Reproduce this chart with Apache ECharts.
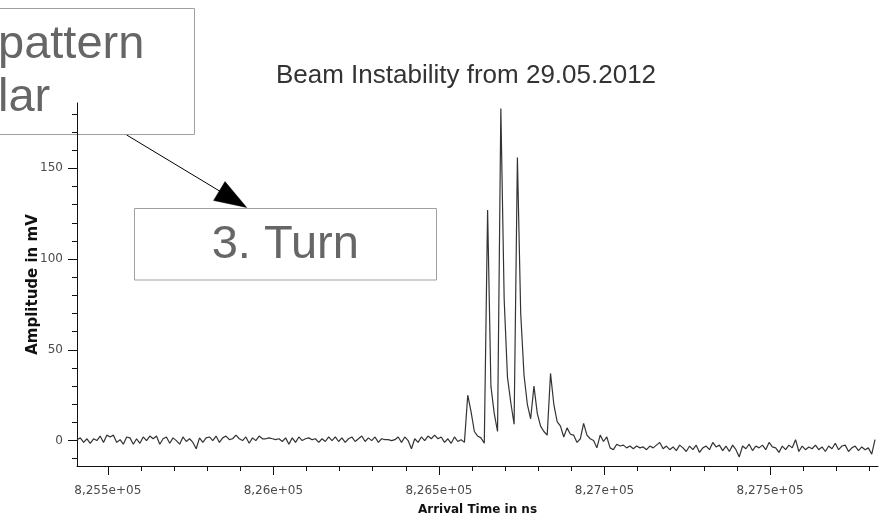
<!DOCTYPE html>
<html><head><meta charset="utf-8">
<script src="https://cdn.jsdelivr.net/npm/echarts@6/dist/echarts.min.js"></script>
<style>html,body{margin:0;padding:0;background:#fff}#c{width:891px;height:521px}</style>
</head><body><div id="c"></div>
<script>
const chartTitle = 'Beam Instability from 29.05.2012';
const xAxisTitle = 'Arrival Time in ns';
const yAxisTitle = 'Amplitude in mV';
const annotationTop = ['pattern', 'lar'];
const annotationMid = '3. Turn';

// sampling grid of the trace (ns)
const sampleStart = 825407;
const sampleStep = 10;

// amplitude in mV
const noiseBefore = [0.5,1.5,-1,1,-1.5,1,0,2.5,-1,3, 2,3,-1,0.5,-2,2,1.5,-2,1,-1.5,
  2,0,2.5,1,2.5,-2,1,2,-1.5,1.5, 0,-2,2,-0.5,1,-1,-4.5,1.5,-1,1.5,
  2,0,2.5,-1,1.5,2.5,0.5,1,3,1, 0,2,-1.5,1.5,0,2.5,1,1,1.5,1,
  0.5,1,-0.5,1.5,-2,1.5,-1,2,0,1, 1.5,0.5,1,-1,1,-0.5,2,0,2,-0.5,
  1.5,-1,1,2,-0.5,1,2.5,-0.5,1.5,0, 2,-1,1,0.5,0.5,0,0.5,2,-1,2,
  0,-4.5,1,-1,2,0,2.5,1,3,1, 2,-1,1,-1.5,2,-0.5,0.5,-1];
const pulses = [25,16,5,2.5,1.5,-1.5,127,30,15,5, 183,78,35,21,9,156,70,36,20,12,
  30,15,8,5,3,37,20,10.5,8,2, 7,3.5,3,-1,1,9.5,3,1,0,-4, 3,-0.5,2,-4,-5,-2];
const noiseAfter = [-3,-2.5,-4,-3,-4.5,-3,-4,-3.5,-5,-3, -4,-2.5,-1,-4.5,-3,-5,-3.5,-5.5,-2.5,-4,
  -6,-3,-5,-2.5,-6.5,-4,-3,-5,-1,-3.5, -2.5,-5.5,-3,-6,-2.5,-5,-9,-3,-4.5,-2,
  -5.5,-3,-4,-2.5,-5,-1,-3.5,-4,-6.5,-3, -5,-2.5,-4,0.5,-6,-3,-5,-3.5,-4.5,-2.5,
  -5,-3.5,-6,-3,-4.5,-1.5,-5,-3,-2.5,-6, -4,-3,-5.5,-3.5,-5,-4,-7.5,0.5];

const xMin = 825407, xMax = 827826;
const yMin = -14, yMax = 186;
const xMajorTicks = [825500, 826000, 826500, 827000, 827500];
const xMinorTicks = [825600,825700,825800,825900, 826100,826200,826300,826400,
  826600,826700,826800,826900, 827100,827200,827300,827400, 827600,827700,827800];
const yMajorTicks = [0, 50, 100, 150];
const yMinorTicks = [-10,10,20,30,40,60,70,80,90,110,120,130,140,160,170,180];

const amplitude = [...noiseBefore, ...pulses, ...noiseAfter];
const trace = amplitude.map((v, i) => [sampleStart + i * sampleStep, v]);

const fmtX = v => parseFloat((v / 1e5).toFixed(4)).toString().replace('.', ',') + 'e+05';

const chart = echarts.init(document.getElementById('c'), null, {renderer: 'canvas'});
const tickFont = {fontFamily: 'DejaVu Sans', fontSize: 12, color: '#4a4a4a'};
const titleFont = {fontFamily: 'DejaVu Sans', fontWeight: 'bold', color: '#111'};
chart.setOption({
  animation: false,
  backgroundColor: '#fff',
  grid: {left: 77, right: 13, top: 103, bottom: 53},
  xAxis: [{
    type: 'value', min: xMin, max: xMax, position: 'bottom',
    axisLine: {show: true, onZero: false, lineStyle: {color: '#111', width: 1}},
    axisTick: {show: true, length: 9, customValues: xMajorTicks, lineStyle: {color: '#111'}},
    axisLabel: Object.assign({customValues: xMajorTicks, margin: 19, formatter: fmtX}, tickFont),
    splitLine: {show: false},
    name: xAxisTitle, nameLocation: 'middle', nameGap: 38, nameMoveOverlap: false,
    nameTextStyle: Object.assign({fontSize: 12}, titleFont)
  }, {
    type: 'value', min: xMin, max: xMax, position: 'bottom', offset: 0,
    axisLine: {show: false, onZero: false},
    axisTick: {show: true, length: 5, customValues: xMinorTicks, lineStyle: {color: '#111'}},
    axisLabel: {show: false}, splitLine: {show: false}
  }],
  yAxis: [{
    type: 'value', min: yMin, max: yMax, position: 'left',
    axisLine: {show: true, onZero: false, lineStyle: {color: '#111', width: 1}},
    axisTick: {show: true, length: 9, customValues: yMajorTicks, lineStyle: {color: '#111'}},
    axisLabel: Object.assign({customValues: yMajorTicks, margin: 14}, tickFont),
    splitLine: {show: false},
    name: yAxisTitle, nameLocation: 'middle', nameGap: 36, nameRotate: 90, nameMoveOverlap: false,
    nameTextStyle: Object.assign({fontSize: 15}, titleFont)
  }, {
    type: 'value', min: yMin, max: yMax, position: 'left', offset: 0,
    axisLine: {show: false, onZero: false},
    axisTick: {show: true, length: 5, customValues: yMinorTicks, lineStyle: {color: '#111'}},
    axisLabel: {show: false}, splitLine: {show: false}
  }],
  series: [{
    type: 'line', data: trace, xAxisIndex: 0, yAxisIndex: 0,
    showSymbol: false, symbol: 'none',
    lineStyle: {color: '#333', width: 1.2}
  }],
  graphic: [
    {type: 'text', x: 466, y: 76, silent: true,
      style: {text: chartTitle, fontFamily: 'Liberation Sans', fontSize: 26, fill: '#333', align: 'center', verticalAlign: 'middle'}},
    {type: 'rect', silent: true, shape: {x: -5, y: 8.5, width: 199.5, height: 126},
      style: {fill: 'none', stroke: '#a0a0a0', lineWidth: 1}},
    {type: 'text', x: -2, y: 45.2, silent: true,
      style: {text: annotationTop[0], fontFamily: 'Liberation Sans', fontSize: 47, fill: '#666', align: 'left', verticalAlign: 'middle'}},
    {type: 'text', x: -2, y: 97.7, silent: true,
      style: {text: annotationTop[1], fontFamily: 'Liberation Sans', fontSize: 47, fill: '#666', align: 'left', verticalAlign: 'middle'}},
    {type: 'rect', silent: true, shape: {x: 134.5, y: 208.5, width: 302, height: 71.5},
      style: {fill: '#fff', stroke: '#a0a0a0', lineWidth: 1}},
    {type: 'text', x: 285.3, y: 245.4, silent: true,
      style: {text: annotationMid, fontFamily: 'Liberation Sans', fontSize: 47, fill: '#666', align: 'center', verticalAlign: 'middle'}},
    {type: 'line', silent: true, shape: {x1: 126.7, y1: 135, x2: 222, y2: 192.5},
      style: {stroke: '#000', lineWidth: 1}},
    {type: 'polygon', silent: true, shape: {points: [[246.7, 207.5], [213.6, 200.4], [225, 181.6]]},
      style: {fill: '#000', stroke: '#000', lineWidth: 0.5}}
  ]
});
</script>
</body></html>
